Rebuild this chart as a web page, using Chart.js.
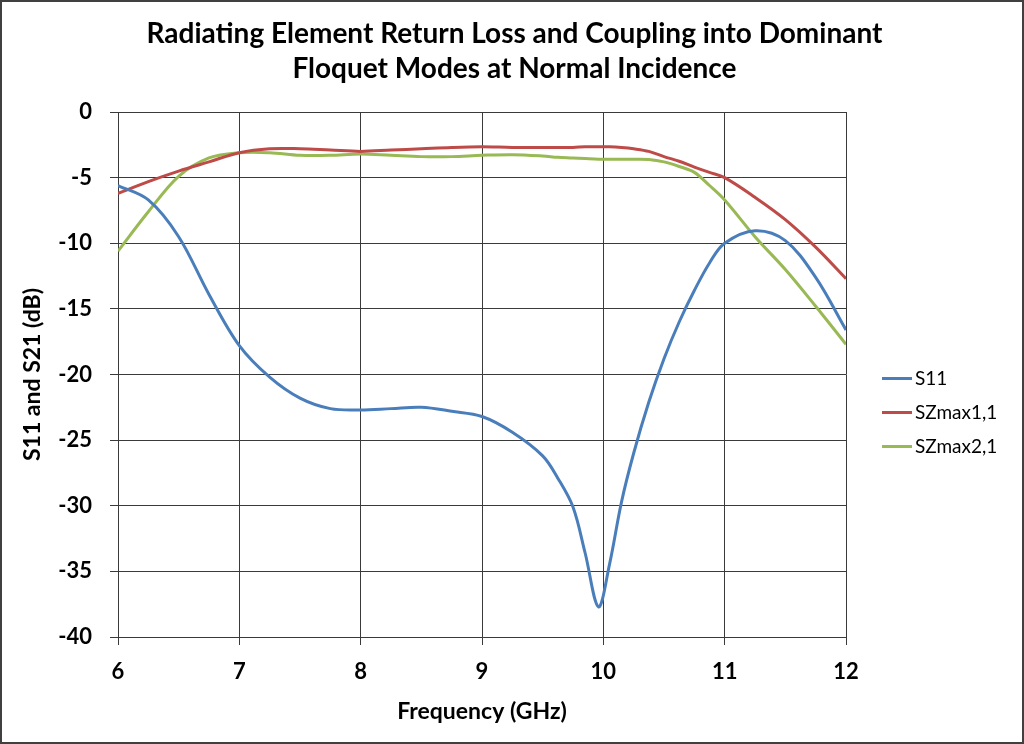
<!DOCTYPE html>
<html>
<head>
<meta charset="utf-8">
<script src="https://cdn.jsdelivr.net/npm/chart.js@4"></script>
<style>
  html, body { margin: 0; padding: 0; background: #fff; }
  #wrap { width: 1024px; height: 744px; }
</style>
</head>
<body>
<div id="wrap"><canvas id="myChart" width="1024" height="744"></canvas></div>
<script>
// frequency points (GHz)
let freq = [6, 6.25, 6.5, 6.75, 7, 7.25, 7.5, 7.75, 8, 8.25, 8.5, 8.75, 9, 9.25, 9.5, 9.625, 9.75, 9.85, 9.96, 10.05, 10.15, 10.25, 10.375, 10.5, 10.625, 10.75, 10.875, 11, 11.25, 11.5, 11.75, 12];
// S11 (dB)
let s11 = [-5.6, -6.7, -9.5, -13.9, -17.8, -20.2, -21.8, -22.6, -22.7, -22.6, -22.5, -22.8, -23.2, -24.4, -26.2, -27.9, -30.1, -33.6, -37.7, -34.5, -29.7, -26.0, -22.1, -18.8, -16.0, -13.6, -11.5, -10.0, -9.05, -9.8, -12.6, -16.6];
// SZmax1,1 (dB)
let szmax1 = [-6.2, -5.3, -4.5, -3.8, -3.1, -2.8, -2.8, -2.9, -3.0, -2.9, -2.8, -2.7, -2.65, -2.7, -2.7, -2.7, -2.7, -2.65, -2.65, -2.65, -2.7, -2.8, -3.0, -3.4, -3.75, -4.2, -4.6, -5.0, -6.5, -8.2, -10.3, -12.7];
// SZmax2,1 (dB)
let szmax2 = [-10.6, -7.6, -4.9, -3.5, -3.1, -3.1, -3.3, -3.3, -3.2, -3.3, -3.4, -3.4, -3.3, -3.25, -3.35, -3.45, -3.5, -3.55, -3.6, -3.6, -3.6, -3.6, -3.62, -3.8, -4.15, -4.6, -5.6, -6.7, -9.5, -12.0, -14.8, -17.7];
let seriesNames = ['S11', 'SZmax1,1', 'SZmax2,1'];
let seriesColors = ['#4a7ebb', '#be4b48', '#98b954'];
let xTicks = [6, 7, 8, 9, 10, 11, 12];

(() => {
    let ctx = document.getElementById('myChart');
    let toPts = arr => arr.map((v, i) => ({x: freq[i], y: v}));
    let fam = 'Lato, "Open Sans", sans-serif';
    let gridCol = '#3a3a3a';

    // white background + outer frame
    let frame = {
        id: 'frame',
        beforeDraw(chart) {
            let c = chart.ctx;
            c.save();
            c.fillStyle = '#fff';
            c.fillRect(0, 0, chart.width, chart.height);
            c.restore();
        },
        afterDraw(chart) {
            let c = chart.ctx;
            c.save();
            c.strokeStyle = '#404040';
            c.lineWidth = 2;
            c.strokeRect(1, 1, chart.width - 2, chart.height - 2);
            c.restore();
        }
    };

    // legend to the right of the plot, a bit below its middle
    let sideLegend = {
        id: 'sideLegend',
        afterDraw(chart) {
            let c = chart.ctx, a = chart.chartArea;
            let x0 = a.right + 36;
            let y0 = (a.top + a.bottom) / 2 + 4;
            c.save();
            c.font = '19px ' + fam;
            c.textBaseline = 'middle';
            c.fillStyle = '#000';
            chart.data.datasets.forEach((ds, i) => {
                let y = y0 + i * 34;
                c.strokeStyle = ds.borderColor;
                c.lineWidth = 3;
                c.beginPath();
                c.moveTo(x0, y);
                c.lineTo(x0 + 30, y);
                c.stroke();
                c.fillText(ds.label, x0 + 33, y);
            });
            c.restore();
        }
    };

    let mk = i => ({
        label: seriesNames[i],
        data: toPts([s11, szmax1, szmax2][i]),
        borderColor: seriesColors[i],
        backgroundColor: seriesColors[i],
        borderWidth: 3,
        pointRadius: 0,
        tension: 0.35
    });

    new Chart(ctx, {
        type: 'line',
        data: {datasets: [mk(0), mk(1), mk(2)]},
        options: {
            responsive: false,
            animation: false,
            layout: {padding: {left: 19, right: 14, top: 12, bottom: 19}},
            plugins: {
                title: {
                    display: true,
                    text: ['Radiating Element Return Loss and Coupling into Dominant', 'Floquet Modes at Normal Incidence'],
                    color: '#000',
                    font: {family: fam, size: 28, weight: 'bold', lineHeight: 1.25},
                    padding: {top: 4, bottom: 26}
                },
                legend: {display: false},
                tooltip: {enabled: false}
            },
            scales: {
                x: {
                    type: 'linear',
                    min: 6,
                    max: 12,
                    afterBuildTicks: axis => { axis.ticks = xTicks.map(v => ({value: v})); },
                    afterFit: axis => { axis.height = 88; },
                    grid: {color: gridCol, lineWidth: 1, tickLength: 8},
                    border: {color: gridCol, width: 1},
                    ticks: {color: '#000', font: {family: fam, size: 22, weight: 'bold'}, maxRotation: 0, padding: 14},
                    title: {display: true, text: 'Frequency (GHz)', color: '#000', font: {family: fam, size: 23, weight: 'bold'}, padding: {top: 0, bottom: 0}}
                },
                y: {
                    min: -40,
                    max: 0,
                    afterFit: axis => { axis.width = 99; },
                    grid: {color: gridCol, lineWidth: 1, tickLength: 8},
                    border: {color: gridCol, width: 1},
                    ticks: {stepSize: 5, color: '#000', font: {family: fam, size: 22, weight: 'bold'}, padding: 18},
                    title: {display: true, text: 'S11 and S21 (dB)', color: '#000', font: {family: fam, size: 23, weight: 'bold'}, padding: {top: 0, bottom: 0}}
                },
                // empty right-hand scale that only keeps room for the legend
                side: {
                    position: 'right',
                    display: true,
                    min: 0,
                    max: 1,
                    afterFit: axis => { axis.width = 164; },
                    grid: {display: false},
                    border: {display: false},
                    ticks: {display: false}
                }
            }
        },
        plugins: [frame, sideLegend]
    });
})();
</script>
</body>
</html>
